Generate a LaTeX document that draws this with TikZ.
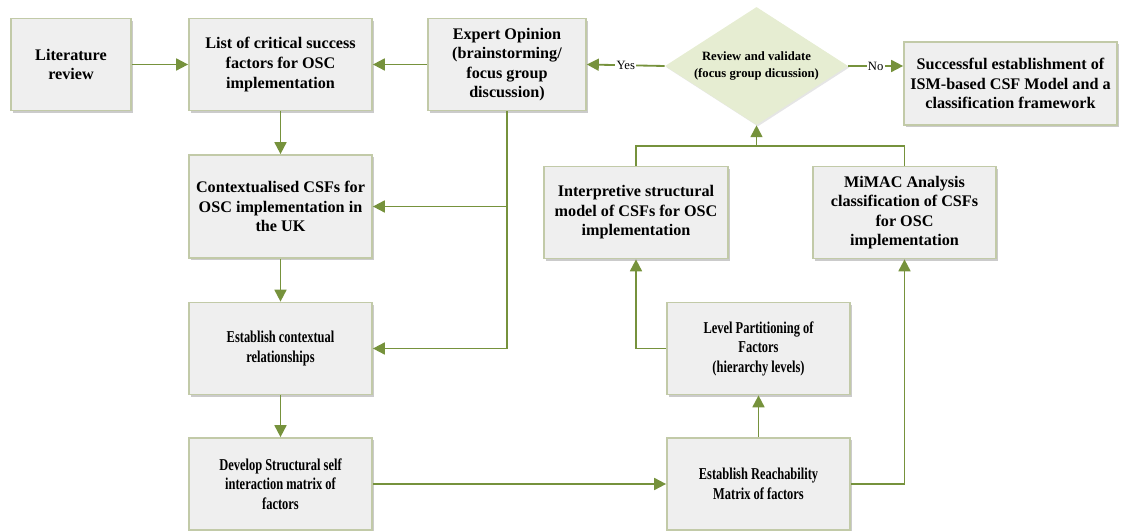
\documentclass[tikz,border=0pt]{standalone}
\usepackage{fontspec}
\setmainfont{Liberation Serif}
\newfontfamily\schmal[FakeStretch=0.75]{Liberation Serif}
\usetikzlibrary{arrows.meta,shapes.geometric,shadows}
\definecolor{oliv}{HTML}{76923C}
\definecolor{rahmen}{HTML}{C2CAA8}
\definecolor{kastgrau}{HTML}{EFEFEF}
\definecolor{rautegruen}{HTML}{E6EDD2}
\tikzset{
  kasten/.style={draw=rahmen,fill=kastgrau,line width=1.2pt,align=center,inner sep=0pt,
    minimum width=4.575cm,minimum height=2.3cm,font=\fontsize{11.5}{13.9}\selectfont\bfseries,
    drop shadow={shadow xshift=1.6pt,shadow yshift=-1.6pt,fill=black!45,opacity=0.45}},
  eng/.style={font=\fontsize{11.8}{13.9}\selectfont\schmal\bfseries},
  raute/.style={shape=diamond,aspect=1.55,fill=rautegruen,align=center,inner sep=0pt,
    minimum width=4.575cm,minimum height=2.95cm,font=\fontsize{9}{11.4}\selectfont\bfseries,
    drop shadow={shadow xshift=1pt,shadow yshift=-1pt,fill=black!25,opacity=0.4}},
  pfeil/.style={-{Triangle[length=8.5pt,width=8.5pt]},oliv,line width=1.3pt},
  linie/.style={oliv,line width=1.3pt},
  marke/.style={fill=white,inner sep=1pt,font=\fontsize{9}{10}\selectfont,text=black},
}
\begin{document}
\begin{tikzpicture}[x=0.025cm,y=-0.025cm]
  \useasboundingbox (0,0) rectangle (1121,531);
  % ===== linke Spalte =====
  \node[kasten,minimum width=3cm] (lit) at (71,64.5) {Literature\\review};
  \node[kasten] (liste) at (280.5,64.5) {List of critical success\\factors for OSC\\implementation};
  \node[kasten,minimum width=3.95cm] (experte) at (507,64.5) {Expert Opinion\\(brainstorming/\\focus group\\discussion)};
  \node[kasten,minimum height=2.575cm] (kontext) at (280.5,206.5) {Contextualised CSFs for\\OSC implementation in\\the UK};
  \node[kasten,eng] (bezieh) at (280.5,348.5) {Establish contextual\\relationships};
  \node[kasten,eng] (ssim) at (280.5,484) {Develop Structural self\\interaction matrix of\\factors};
  % ===== rechte Seite =====
  \node[raute] (pruef) at (756.5,66) {Review and validate\\(focus group dicussion)};
  \node[kasten,minimum width=5.325cm,minimum height=2.075cm] (erfolg) at (1010.5,83.5) {Successful establishment of\\ISM-based CSF Model and a\\classification framework};
  \node[kasten,minimum width=4.6cm] (ism) at (636,212.5) {Interpretive structural\\model of CSFs for OSC\\implementation};
  \node[kasten] (mimac) at (904.5,212.5) {MiMAC Analysis\\classification of CSFs\\for OSC\\implementation};
  \node[kasten,eng] (level) at (758.5,348.5) {Level Partitioning of\\Factors\\(hierarchy levels)};
  \node[kasten,eng] (reach) at (758.5,484) {Establish Reachability\\Matrix of factors};
  % ===== Verbindungen =====
  \draw[pfeil] (lit.east) -- (liste.west);
  \draw[pfeil] (experte.west) -- (liste.east);
  \draw[pfeil] (pruef.west) -- node[marke] {Yes} (experte.east);
  \draw[pfeil] (pruef.east) -- node[marke] {No} (pruef.east -| erfolg.west);
  \draw[pfeil] (liste.south) -- (kontext.north);
  \draw[pfeil] (kontext.south) -- (bezieh.north);
  \draw[pfeil] (bezieh.south) -- (ssim.north);
  \draw[pfeil] (experte.south) |- (bezieh.east);
  \draw[pfeil] (experte.south |- kontext.east) -- (kontext.east);
  \draw[pfeil] (ssim.east) -- (reach.west);
  \draw[pfeil] (reach.north) -- (level.south);
  \draw[pfeil] (reach.east) -| (mimac.south);
  \draw[pfeil] (level.west) -| (ism.south);
  % ===== Rückführung zur Prüfung =====
  \coordinate (sammel) at (pruef.south |- 0,146);
  \draw[linie] (ism.north) |- (sammel) -| (mimac.north);
  \draw[pfeil] (sammel) -- (pruef.south);
\end{tikzpicture}
\end{document}
